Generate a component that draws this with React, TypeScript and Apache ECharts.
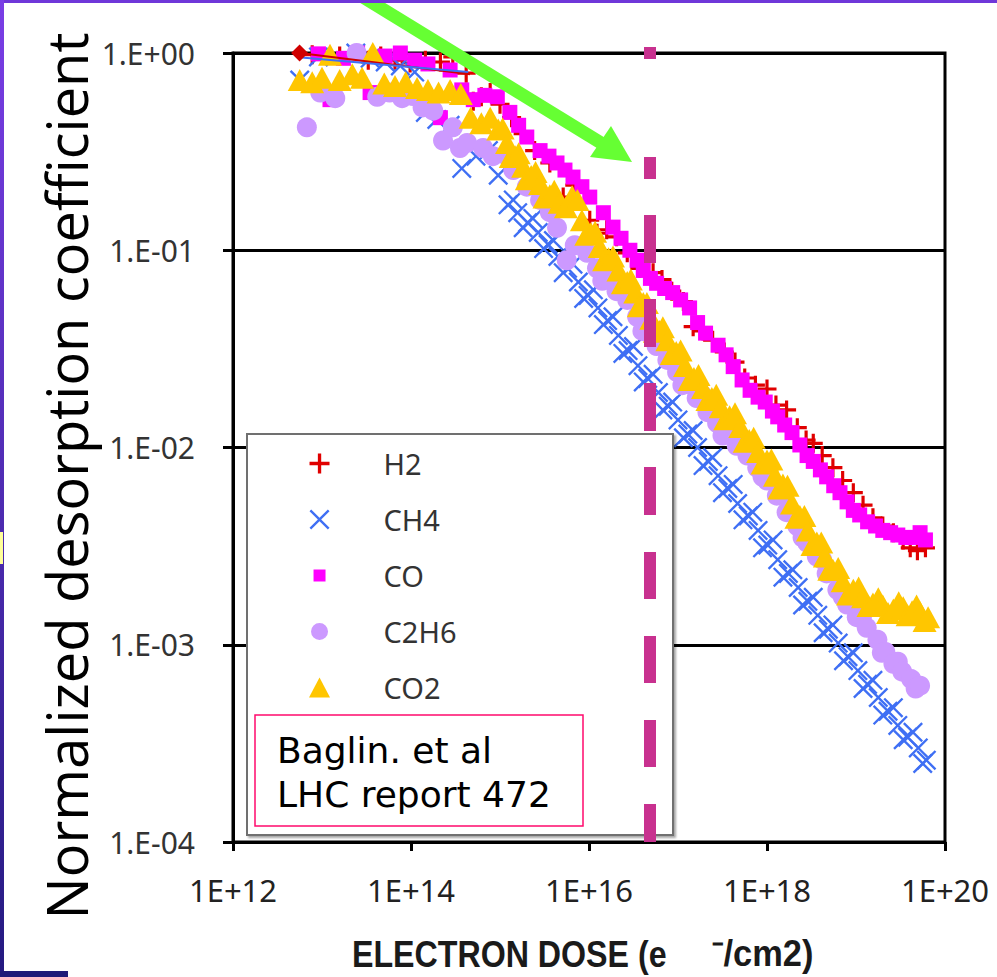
import React, { useEffect, useRef } from "react";
import * as echarts from "echarts";

// ---------- data (dose in e-/cm2, normalized desorption coefficient) ----------
const xTicks = [1e12, 1e14, 1e16, 1e18, 1e20];
const yTicks = [1e-4, 1e-3, 1e-2, 1e-1, 1];
const seriesNames = ["H2", "CH4", "CO", "C2H6", "CO2"];
const seriesColors = ["#e00000", "#3f6ff4", "#ff00ff", "#cc99ff", "#ffc600"];

const h2: number[][] = [
  [7.76e12, 0.98], [1.1e13, 1.03], [1.58e13, 0.965], [2.29e13, 1.01], [3.31e13, 0.92],
  [4.57e13, 0.965], [6.61e13, 0.92], [9.77e13, 0.89], [1.45e14, 0.92], [2.14e14, 0.9],
  [2.95e14, 0.955], [4.17e14, 0.79], [5.01e14, 0.57], [6.17e14, 0.6], [7.76e14, 0.63],
  [1.0e15, 0.55], [1.35e15, 0.47], [1.82e15, 0.39], [2.45e15, 0.32], [3.63e15, 0.277],
  [5.13e15, 0.186], [6.92e15, 0.214], [1.02e16, 0.142], [1.23e16, 0.122], [1.58e16, 0.127],
  [2.04e16, 0.117], [2.69e16, 0.097], [3.72e16, 0.081], [5.25e16, 0.077], [6.61e16, 0.071],
  [8.51e16, 0.062], [1.15e17, 0.055], [1.48e17, 0.041], [1.91e17, 0.039], [2.45e17, 0.035],
  [3.31e17, 0.0305], [4.37e17, 0.0271], [5.62e17, 0.0225], [7.41e17, 0.0207], [1.0e18, 0.0198],
  [1.26e18, 0.0164], [1.66e18, 0.0155], [2.19e18, 0.0126], [2.75e18, 0.0109], [3.31e18, 0.0105],
  [4.17e18, 0.0091], [5.5e18, 0.0079], [7.08e18, 0.0068], [9.33e18, 0.0059], [1.2e19, 0.0051],
  [1.55e19, 0.0044], [2.0e19, 0.004], [2.63e19, 0.0037], [3.39e19, 0.0034], [4.07e19, 0.0031],
  [4.9e19, 0.003], [6.03e19, 0.0031],
];

const ch4: number[][] = [
  [5.62e12, 0.73], [9.12e12, 0.955], [1.23e13, 1.02], [1.66e13, 1.05], [2.4e13, 1.0],
  [3.47e13, 0.94], [5.13e13, 0.9], [7.59e13, 0.86], [1.1e14, 0.8], [1.45e14, 0.5],
  [1.95e14, 0.46], [2.75e14, 0.43], [3.72e14, 0.26], [5.37e14, 0.3], [7.41e14, 0.32],
  [9.55e14, 0.24], [1.23e15, 0.17], [1.41e15, 0.18], [1.58e15, 0.155], [1.82e15, 0.13],
  [2.04e15, 0.138], [2.34e15, 0.145], [2.69e15, 0.123], [3.09e15, 0.102], [3.47e15, 0.107],
  [3.98e15, 0.112], [4.47e15, 0.093], [5.13e15, 0.077], [5.75e15, 0.081], [6.61e15, 0.085],
  [7.59e15, 0.069], [8.71e15, 0.057], [9.77e15, 0.059], [1.12e16, 0.063], [1.26e16, 0.051],
  [1.45e16, 0.042], [1.62e16, 0.044], [1.86e16, 0.046], [2.14e16, 0.037], [2.4e16, 0.03],
  [2.75e16, 0.031], [3.16e16, 0.0325], [3.55e16, 0.026], [4.07e16, 0.0215], [4.57e16, 0.0224],
  [5.25e16, 0.0235], [6.03e16, 0.019], [6.76e16, 0.0155], [7.76e16, 0.0162], [8.71e16, 0.017],
  [1.0e17, 0.0138], [1.15e17, 0.0112], [1.29e17, 0.0117], [1.48e17, 0.0122], [1.66e17, 0.01],
  [1.91e17, 0.0081], [2.19e17, 0.0085], [2.45e17, 0.0089], [2.82e17, 0.0072], [3.16e17, 0.0059],
  [3.63e17, 0.0062], [4.17e17, 0.0065], [4.68e17, 0.0052], [5.37e17, 0.0043], [6.17e17, 0.0045],
  [6.92e17, 0.0047], [7.94e17, 0.0038], [8.91e17, 0.0031], [1.02e18, 0.0032], [1.17e18, 0.0034],
  [1.32e18, 0.0027], [1.51e18, 0.0022], [1.74e18, 0.0023], [1.95e18, 0.0024], [2.24e18, 0.00195],
  [2.51e18, 0.00159], [2.88e18, 0.00166], [3.31e18, 0.00174], [3.72e18, 0.00141], [4.27e18, 0.00115],
  [4.9e18, 0.0012], [5.5e18, 0.00126], [6.31e18, 0.00102], [7.24e18, 0.00083], [8.13e18, 0.00087],
  [9.33e18, 0.00091], [1.05e19, 0.00074], [1.2e19, 0.0006], [1.35e19, 0.00063], [1.55e19, 0.00066],
  [1.78e19, 0.00054], [2.0e19, 0.00044], [2.29e19, 0.00046], [2.63e19, 0.00048], [2.95e19, 0.00039],
  [3.39e19, 0.00033], [3.8e19, 0.00034], [4.37e19, 0.00036], [5.01e19, 0.0003], [5.62e19, 0.00025],
  [6.17e19, 0.00026],
];

const co: number[][] = [
  [9.12e12, 0.99], [1.23e13, 0.58], [1.74e13, 0.94], [2.51e13, 1.0], [3.47e13, 0.63],
  [5.13e13, 0.965], [7.59e13, 1.0], [1.1e14, 0.92], [1.55e14, 0.88], [2.14e14, 0.47],
  [2.75e14, 0.82], [3.72e14, 0.65], [5.01e14, 0.58], [6.76e14, 0.61], [9.33e14, 0.6],
  [1.29e15, 0.5], [1.62e15, 0.43], [2.0e15, 0.375], [2.82e15, 0.32], [3.55e15, 0.3],
  [4.37e15, 0.277], [5.37e15, 0.255], [6.61e15, 0.235], [8.32e15, 0.21], [1.02e16, 0.186],
  [1.45e16, 0.155], [1.86e16, 0.131], [2.29e16, 0.115], [2.88e16, 0.1], [3.47e16, 0.089],
  [4.07e16, 0.079], [4.9e16, 0.072], [5.75e16, 0.068], [7.08e16, 0.064], [8.71e16, 0.061],
  [1.07e17, 0.056], [1.35e17, 0.051], [1.66e17, 0.043], [2.04e17, 0.038], [2.82e17, 0.033],
  [3.47e17, 0.0295], [4.17e17, 0.0257], [5.25e17, 0.022], [6.46e17, 0.0195], [7.94e17, 0.018],
  [9.55e17, 0.017], [1.15e18, 0.0153], [1.32e18, 0.0143], [1.58e18, 0.013], [1.91e18, 0.0119],
  [2.34e18, 0.0103], [2.82e18, 0.0091], [3.31e18, 0.0085], [3.98e18, 0.0077], [4.68e18, 0.0071],
  [5.62e18, 0.0064], [6.61e18, 0.0059], [7.94e18, 0.0053], [9.33e18, 0.0048], [1.1e19, 0.00455],
  [1.35e19, 0.0042], [1.66e19, 0.004], [2.0e19, 0.0038], [2.45e19, 0.0037], [2.95e19, 0.0036],
  [3.63e19, 0.0035], [4.37e19, 0.0035], [5.25e19, 0.0037], [6.03e19, 0.0034],
];

const c2h6: number[][] = [
  [6.76e12, 0.42], [9.55e12, 0.63], [1.41e13, 0.59], [2.45e13, 1.0], [4.17e13, 0.6],
  [5.75e13, 0.63], [7.94e13, 0.59], [1.05e14, 0.605], [1.35e14, 0.53], [1.78e14, 0.51],
  [2.29e14, 0.36], [2.95e14, 0.42], [3.55e14, 0.33], [4.27e14, 0.35], [6.46e14, 0.33],
  [8.32e14, 0.3], [1.2e15, 0.3], [1.41e15, 0.255], [2.0e15, 0.21], [2.82e15, 0.18],
  [3.63e15, 0.156], [4.37e15, 0.13], [5.62e15, 0.089], [6.92e15, 0.106], [9.55e15, 0.097],
  [1.23e16, 0.081], [1.41e16, 0.07], [1.58e16, 0.071], [2.04e16, 0.062], [2.34e16, 0.064],
  [2.69e16, 0.056], [3.47e16, 0.046], [3.98e16, 0.039], [4.47e16, 0.0385], [5.75e16, 0.0327],
  [6.61e16, 0.034], [7.59e16, 0.0278], [9.77e16, 0.0241], [1.12e17, 0.0207], [1.26e17, 0.021],
  [1.62e17, 0.0178], [1.86e17, 0.0185], [2.14e17, 0.0151], [2.75e17, 0.0133], [3.16e17, 0.0115],
  [3.55e17, 0.0116], [4.57e17, 0.0102], [5.25e17, 0.0104], [6.03e17, 0.0091], [7.76e17, 0.0079],
  [8.91e17, 0.0071], [1.0e18, 0.0068], [1.29e18, 0.0057], [1.48e18, 0.0058], [1.66e18, 0.0047],
  [2.19e18, 0.004], [2.51e18, 0.0035], [2.82e18, 0.0033], [3.63e18, 0.0028], [4.17e18, 0.0027],
  [4.68e18, 0.0023], [6.17e18, 0.0019], [7.08e18, 0.00175], [7.94e18, 0.0016], [1.02e19, 0.00138],
  [1.17e19, 0.0014], [1.32e19, 0.00122], [1.74e19, 0.00106], [1.95e19, 0.00091], [2.14e19, 0.00092],
  [2.63e19, 0.0008], [2.95e19, 0.00082], [3.31e19, 0.00073], [4.17e19, 0.00067], [4.68e19, 0.0006],
  [5.25e19, 0.00062],
];

const co2: number[][] = [
  [5.62e12, 0.73], [7.76e12, 0.71], [1.0e13, 0.75], [1.23e13, 0.98], [1.58e13, 0.73],
  [2.19e13, 0.78], [2.82e13, 0.75], [3.72e13, 1.0], [5.01e13, 0.7], [6.61e13, 0.68],
  [8.71e13, 0.71], [1.17e14, 0.665], [1.55e14, 0.65], [2.04e14, 0.63], [2.75e14, 0.65],
  [3.63e14, 0.62], [4.68e14, 0.47], [6.17e14, 0.44], [7.76e14, 0.47], [9.55e14, 0.41],
  [1.07e15, 0.414], [1.2e15, 0.35], [1.32e15, 0.297], [1.48e15, 0.3], [1.62e15, 0.31],
  [1.82e15, 0.265], [2.0e15, 0.229], [2.24e15, 0.238], [2.51e15, 0.249], [2.82e15, 0.217],
  [3.16e15, 0.185], [3.63e15, 0.19], [4.07e15, 0.2], [4.68e15, 0.174], [5.5e15, 0.165],
  [6.46e15, 0.188], [7.41e15, 0.18], [8.32e15, 0.142], [9.33e15, 0.12], [1.05e16, 0.122],
  [1.17e16, 0.124], [1.32e16, 0.104], [1.48e16, 0.089], [1.66e16, 0.091], [1.86e16, 0.093],
  [2.14e16, 0.079], [2.4e16, 0.068], [2.69e16, 0.069], [2.95e16, 0.071], [3.31e16, 0.061],
  [3.63e16, 0.052], [4.07e16, 0.054], [4.47e16, 0.054], [5.01e16, 0.045], [5.5e16, 0.0386],
  [6.17e16, 0.039], [6.76e16, 0.0407], [7.59e16, 0.035], [8.51e16, 0.0298], [9.55e16, 0.0305],
  [1.07e17, 0.031], [1.2e17, 0.0259], [1.35e17, 0.022], [1.51e17, 0.0225], [1.7e17, 0.0233],
  [1.91e17, 0.02], [2.14e17, 0.0174], [2.4e17, 0.0178], [2.69e17, 0.0185], [3.02e17, 0.016],
  [3.39e17, 0.0139], [3.8e17, 0.0144], [4.37e17, 0.0149], [5.01e17, 0.0127], [5.62e17, 0.0107],
  [6.31e17, 0.0109], [7.08e17, 0.0112], [7.94e17, 0.0095], [8.91e17, 0.0083], [1.0e18, 0.0086],
  [1.12e18, 0.0087], [1.23e18, 0.0072], [1.38e18, 0.0062], [1.51e18, 0.0065], [1.7e18, 0.0064],
  [1.91e18, 0.0052], [2.14e18, 0.0044], [2.34e18, 0.0045], [2.63e18, 0.0045], [2.88e18, 0.0038],
  [3.24e18, 0.0032], [3.63e18, 0.0033], [4.07e18, 0.0033], [4.47e18, 0.0028], [5.01e18, 0.0024],
  [5.5e18, 0.0024], [6.31e18, 0.00245], [7.08e18, 0.0021], [8.13e18, 0.0018], [9.33e18, 0.0019],
  [1.07e19, 0.00195], [1.2e19, 0.00174], [1.38e19, 0.00157], [1.55e19, 0.00162], [1.78e19, 0.00172],
  [2.0e19, 0.00158], [2.29e19, 0.00145], [2.63e19, 0.00151], [3.02e19, 0.00164], [3.39e19, 0.00155],
  [3.8e19, 0.00141], [4.27e19, 0.00148], [4.79e19, 0.00158], [5.25e19, 0.00146], [5.89e19, 0.00132],
  [6.46e19, 0.00138],
];

// early fit lines drawn across the first points
const h2Fit: number[][] = [[5.6e12, 1.0], [4.6e14, 0.78]];
const ch4Fit: number[][] = [[5.9e12, 0.95], [4.4e14, 0.8]];

// ---------- symbols ----------
const PLUS = "path://M7.5 0L10.5 0L10.5 7.5L18 7.5L18 10.5L10.5 10.5L10.5 18L7.5 18L7.5 10.5L0 10.5L0 7.5L7.5 7.5Z";
const CROSS = "path://M0 1.5L1.5 0L9 7.5L16.5 0L18 1.5L10.5 9L18 16.5L16.5 18L9 10.5L1.5 18L0 16.5L7.5 9Z";
const SQUARE = "path://M0 0L10 0L10 10L0 10Z";
const TRIANGLE = "path://M10 0L20 18L0 18Z";
const LEG_SQUARE = "path://M-4 -4M16 16M0 0L12 0L12 12L0 12Z";
const LEG_CIRCLE = "path://M-1.5 -1.5M18.5 18.5M8.5 0A8.5 8.5 0 1 1 8.5 17A8.5 8.5 0 1 1 8.5 0Z";
const LEG_TRIANGLE = "path://M10 0L20 19L0 19Z";

const seriesData = [h2, ch4, co, c2h6, co2];
const seriesSymbols = [PLUS, CROSS, SQUARE, "circle", TRIANGLE];
const seriesSizes: (number | number[])[] = [19, 20, 15, 20, [24, 22]];
const legendIcons = [PLUS, CROSS, LEG_SQUARE, LEG_CIRCLE, LEG_TRIANGLE];

// annotation: dashed vertical line segments (pixel y ranges) at ~5E+16
const dashSegments = [
  [804, 842], [720, 767], [636, 683], [552, 599], [467, 515],
  [383, 431], [299, 347], [215, 263], [157, 179], [47, 59],
];

function yLabel(v: number) {
  const e = Math.round(Math.log10(v));
  return "1.E" + (e < 0 ? "-" : "+") + String(Math.abs(e)).padStart(2, "0");
}
function xLabel(v: number) {
  const e = Math.round(Math.log10(v));
  return "1E+" + String(e);
}

export default function App() {
  const ref = useRef<HTMLDivElement>(null);

  useEffect(() => {
    if (!ref.current) return;
    const chart = echarts.init(ref.current, null, { renderer: "svg" });

    const scatter = seriesNames.map((name, i) => ({
      type: "scatter",
      name,
      data: seriesData[i],
      symbol: seriesSymbols[i],
      symbolSize: seriesSizes[i],
      itemStyle: { color: seriesColors[i], opacity: 1 },
      emphasis: { disabled: true },
      silent: true,
      z: 2,
    }));

    const fits = [
      {
        type: "line",
        name: "H2 fit",
        data: [
          { value: h2Fit[0], symbol: "diamond", symbolSize: 17 },
          { value: h2Fit[1], symbol: "none" },
        ],
        lineStyle: { color: "#d00000", width: 2 },
        itemStyle: { color: "#d00000", opacity: 1 },
        silent: true,
        z: 3,
      },
      {
        type: "line",
        name: "CH4 fit",
        data: ch4Fit,
        symbol: "none",
        lineStyle: { color: "#3f6ff4", width: 2 },
        silent: true,
        z: 3,
      },
    ];

    const dashes = dashSegments.map(([a, b]) => ({
      type: "rect",
      z: 5,
      shape: { x: 644, y: a, width: 12, height: b - a },
      style: { fill: "#c8318f" },
      silent: true,
    }));

    chart.setOption({
      animation: false,
      backgroundColor: "#ffffff",
      textStyle: { fontFamily: "Noto Sans" },
      grid: {
        left: 233,
        right: 52,
        top: 53,
        bottom: 135,
        show: true,
        borderColor: "#000",
        borderWidth: 3,
        backgroundColor: "#fff",
      },
      xAxis: {
        type: "log",
        logBase: 100,
        min: xTicks[0],
        max: xTicks[xTicks.length - 1],
        axisLine: { show: true, lineStyle: { color: "#000", width: 3 } },
        axisTick: { show: true, length: 9, lineStyle: { color: "#000", width: 3 } },
        minorTick: { show: false },
        splitLine: { show: false },
        axisLabel: {
          formatter: xLabel,
          fontFamily: "Noto Sans",
          fontSize: 31,
          color: "#222",
          margin: 32,
        },
      },
      yAxis: {
        type: "log",
        logBase: 10,
        min: yTicks[0],
        max: yTicks[yTicks.length - 1],
        axisLine: { show: true, lineStyle: { color: "#000", width: 3 } },
        axisTick: { show: true, length: 10, lineStyle: { color: "#000", width: 3 } },
        minorTick: { show: false },
        splitLine: { show: true, lineStyle: { color: "#000", width: 3 } },
        axisLabel: {
          formatter: yLabel,
          fontFamily: "Noto Sans",
          fontSize: 30,
          color: "#333",
          margin: 38,
        },
      },
      legend: {
        orient: "vertical",
        left: 309,
        top: 449,
        padding: 0,
        itemWidth: 118,
        itemHeight: 20,
        itemGap: 27,
        selectedMode: false,
        z: 6,
        data: seriesNames.map((n, i) => ({ name: n, icon: legendIcons[i] })),
        textStyle: { fontFamily: "Noto Sans", fontSize: 29, color: "#333", lineHeight: 20 },
      },
      graphic: [
        // outer slide frame
        { type: "rect", z: 10, shape: { x: 0, y: 0, width: 997, height: 3 }, style: { fill: "#6f37d9" }, silent: true },
        {
          type: "rect",
          z: 10,
          shape: { x: 0, y: 0, width: 4, height: 977 },
          style: {
            fill: new echarts.graphic.LinearGradient(0, 0, 0, 1, [
              { offset: 0, color: "#7a3ee6" },
              { offset: 1, color: "#241a80" },
            ]),
          },
          silent: true,
        },
        { type: "rect", z: 10, shape: { x: 0, y: 971, width: 68, height: 6 }, style: { fill: "#1e1a78" }, silent: true },
        { type: "rect", z: 11, shape: { x: 0, y: 532, width: 3, height: 32 }, style: { fill: "#ffff99" }, silent: true },
        // legend frame
        {
          type: "rect",
          z: 4,
          shape: { x: 247, y: 434, width: 426, height: 401 },
          style: {
            fill: "#fff",
            stroke: "#707070",
            lineWidth: 2,
            shadowBlur: 2,
            shadowOffsetX: 2,
            shadowOffsetY: 2,
            shadowColor: "rgba(0,0,0,0.35)",
          },
          silent: true,
        },
        // citation box
        {
          type: "rect",
          z: 5,
          shape: { x: 255, y: 715, width: 328, height: 111 },
          style: { fill: "#fff", stroke: "#ff0a6c", lineWidth: 1.5 },
          silent: true,
        },
        {
          type: "text",
          z: 5,
          x: 277,
          y: 728,
          style: {
            text: "Baglin. et al\nLHC report 472",
            fontFamily: "DejaVu Sans",
            fontSize: 36,
            lineHeight: 44,
            fill: "#000",
            align: "left",
            verticalAlign: "top",
          },
          silent: true,
        },
        ...dashes,
        // green arrow
        {
          type: "line",
          z: 7,
          shape: { x1: 345, y1: -14, x2: 606, y2: 146 },
          style: { stroke: "#66ff33", lineWidth: 13 },
          silent: true,
        },
        {
          type: "polygon",
          z: 7,
          shape: { points: [[632, 162], [590, 157], [611, 126]] },
          style: { fill: "#66ff33" },
          silent: true,
        },
        // axis titles
        {
          type: "text",
          z: 8,
          x: 66,
          y: 476,
          rotation: Math.PI / 2,
          style: {
            text: "Normalized desorption coefficient",
            fontFamily: "Open Sans",
            fontSize: 56,
            fill: "#000",
            align: "center",
            verticalAlign: "middle",
          },
          silent: true,
        },
        {
          type: "text",
          z: 8,
          x: 352,
          y: 954,
          scaleX: 0.87,
          style: {
            text: "ELECTRON DOSE (e",
            fontFamily: "Liberation Sans",
            fontWeight: "bold",
            fontSize: 37,
            fill: "#1a1a1a",
            align: "left",
            verticalAlign: "middle",
          },
          silent: true,
        },
        {
          type: "text",
          z: 8,
          x: 712,
          y: 954,
          scaleX: 0.93,
          style: {
            text: "\u207B/cm2)",
            fontFamily: "Liberation Sans",
            fontWeight: "bold",
            fontSize: 37,
            fill: "#1a1a1a",
            align: "left",
            verticalAlign: "middle",
          },
          silent: true,
        },
      ],
      series: [...scatter, ...fits],
    });

    return () => chart.dispose();
  }, []);

  return (
    <div
      ref={ref}
      style={{ position: "fixed", left: 0, top: 0, width: 997, height: 977, background: "#fff" }}
    />
  );
}
